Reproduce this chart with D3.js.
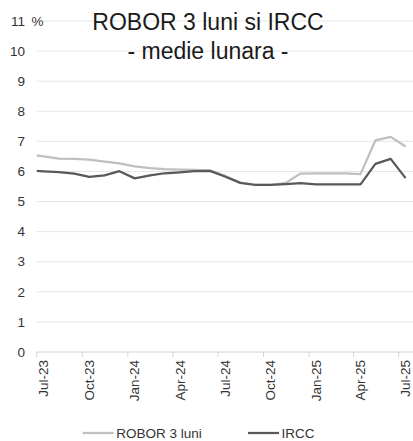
<!DOCTYPE html>
<html>
<head>
<meta charset="utf-8">
<script src="https://cdn.jsdelivr.net/npm/d3@7"></script>
<style>
  html, body { margin: 0; padding: 0; background: #fff; }
  svg { display: block; font-family: "Liberation Sans", Arial, sans-serif; }
</style>
</head>
<body>
<svg id="chart" width="413" height="441"></svg>
<script>
// Monthly averages (%). The June 2023 value only feeds the segment entering the plot at its left edge.
const months = ["Jun-23","Jul-23","Aug-23","Sep-23","Oct-23","Nov-23","Dec-23",
  "Jan-24","Feb-24","Mar-24","Apr-24","May-24","Jun-24","Jul-24","Aug-24","Sep-24","Oct-24","Nov-24","Dec-24",
  "Jan-25","Feb-25","Mar-25","Apr-25","May-25","Jun-25","Jul-25"];
const robor3m = [6.57, 6.50, 6.43, 6.42, 6.39, 6.33, 6.27,
  6.17, 6.11, 6.08, 6.06, 6.05, 6.03, 5.86, 5.63, 5.56, 5.55, 5.62, 5.93,
  5.94, 5.94, 5.94, 5.91, 7.03, 7.15, 6.83];
const ircc = [6.03, 6.00, 5.98, 5.93, 5.82, 5.87, 6.01,
  5.77, 5.87, 5.94, 5.97, 6.01, 6.02, 5.83, 5.62, 5.55, 5.55, 5.58, 5.61,
  5.57, 5.57, 5.57, 5.57, 6.25, 6.42, 5.78];
const tickMonths = ["Jul-23","Oct-23","Jan-24","Apr-24","Jul-24","Oct-24","Jan-25","Apr-25","Jul-25"];
const yTicks = [0,1,2,3,4,5,6,7,8,9,10,11];
const seriesNames = ["ROBOR 3 luni", "IRCC"];
const titleLines = ["ROBOR 3 luni si IRCC", "- medie lunara -"];

const svg = d3.select("#chart");
const W = 413, H = 441;
const plot = { left: 36.7, right: 414, top: 21, bottom: 352 };

const parseMonth = d3.utcParse("%b-%y");
const midMonth = m => d3.utcDay.offset(parseMonth(m), 14);

const x = d3.scaleUtc()
  .domain([parseMonth("Jul-23"), parseMonth("Aug-25")])
  .range([plot.left, plot.right]);
const y = d3.scaleLinear().domain([0, 11]).range([plot.bottom, plot.top]);

// Horizontal gridlines
svg.append("g").selectAll("line")
  .data(yTicks.filter(t => t > 0))
  .join("line")
  .attr("x1", plot.left).attr("x2", W)
  .attr("y1", d => y(d)).attr("y2", d => y(d))
  .attr("stroke", "#e6e6e6").attr("stroke-width", 1);

// Y labels
svg.append("g").selectAll("text")
  .data(yTicks)
  .join("text")
  .attr("x", 25).attr("y", d => y(d))
  .attr("dy", "0.35em")
  .attr("text-anchor", "end")
  .attr("font-size", 13.5)
  .attr("fill", "#333")
  .text(d => d);

svg.append("text")
  .attr("x", 31.5).attr("y", y(11)).attr("dy", "0.35em")
  .attr("font-size", 13.5).attr("fill", "#333")
  .text("%");

// X axis baseline with tick marks at quarter starts
const xAxis = svg.append("g");
xAxis.append("line")
  .attr("x1", plot.left).attr("x2", W)
  .attr("y1", y(0)).attr("y2", y(0))
  .attr("stroke", "#d4d4d4").attr("stroke-width", 1);
xAxis.selectAll("line.tick")
  .data(tickMonths)
  .join("line").attr("class", "tick")
  .attr("x1", d => x(parseMonth(d))).attr("x2", d => x(parseMonth(d)))
  .attr("y1", y(0)).attr("y2", y(0) + 5)
  .attr("stroke", "#d4d4d4").attr("stroke-width", 1);
xAxis.selectAll("text")
  .data(tickMonths)
  .join("text")
  .attr("transform", d => `translate(${x(midMonth(d))},${y(0) + 8}) rotate(-90)`)
  .attr("dy", "0.35em")
  .attr("text-anchor", "end")
  .attr("font-size", 13.5)
  .attr("fill", "#333")
  .text(d => d);

// Clip lines to the plot area
svg.append("defs").append("clipPath").attr("id", "plotClip")
  .append("rect")
  .attr("x", plot.left).attr("y", 0)
  .attr("width", plot.right - plot.left).attr("height", plot.bottom);

const line = d3.line()
  .x(d => x(midMonth(d.m)))
  .y(d => y(d.v));

const series = [
  { name: seriesNames[0], values: robor3m, color: "#bfbfbf" },
  { name: seriesNames[1], values: ircc, color: "#595959" }
];

svg.append("g").attr("clip-path", "url(#plotClip)")
  .selectAll("path")
  .data(series)
  .join("path")
  .attr("d", s => line(months.map((m, i) => ({ m, v: s.values[i] }))))
  .attr("fill", "none")
  .attr("stroke", s => s.color)
  .attr("stroke-width", 2.25)
  .attr("stroke-linejoin", "round");

// Title
svg.append("g").selectAll("text")
  .data(titleLines)
  .join("text")
  .attr("x", 208)
  .attr("y", (d, i) => 30 + i * 28.5)
  .attr("text-anchor", "middle")
  .attr("font-size", 23)
  .attr("fill", "#1a1a1a")
  .text(d => d);

// Legend, along the bottom edge
const legendX = [82.7, 248];
const lg = svg.append("g").selectAll("g")
  .data(series)
  .join("g")
  .attr("transform", (d, i) => `translate(${legendX[i]},433)`);
lg.append("line")
  .attr("x1", 0).attr("x2", 31)
  .attr("stroke", d => d.color).attr("stroke-width", 2.25);
lg.append("text")
  .attr("x", 33.5).attr("y", 0).attr("dy", "0.35em")
  .attr("font-size", 13.5).attr("fill", "#333")
  .text(d => d.name);
</script>
</body>
</html>
